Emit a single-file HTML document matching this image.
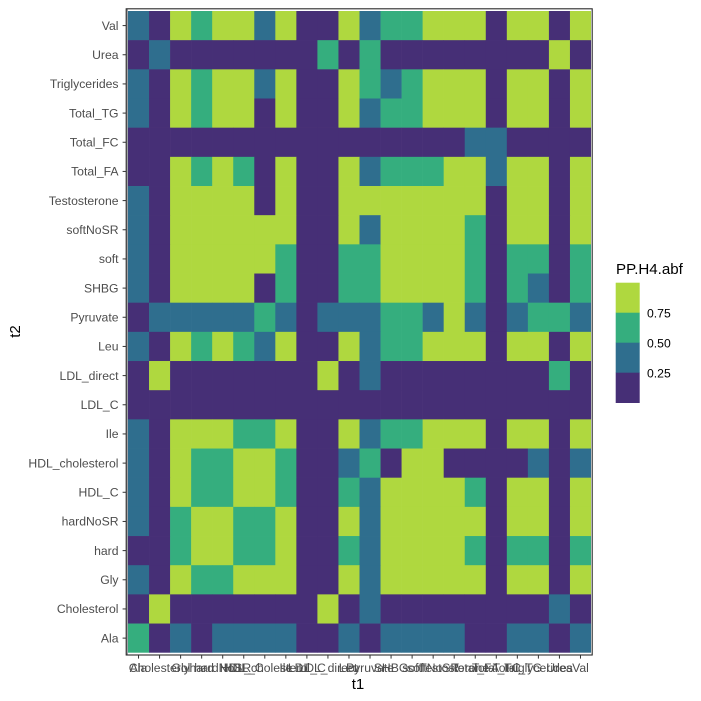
<!DOCTYPE html>
<html>
<head>
<meta charset="utf-8">
<style>
html,body{margin:0;padding:0;background:#fff;width:701px;height:701px;overflow:hidden}
svg{display:block}
text{font-family:"Liberation Sans",sans-serif}
</style>
</head>
<body>
<svg id="chart" width="701" height="701" viewBox="0 0 701 701" xmlns="http://www.w3.org/2000/svg">
  <rect x="0" y="0" width="701" height="701" fill="#ffffff"/>
  <g id="cells"></g>
  <rect x="126.6" y="9" width="1.4" height="646" fill="#9da1a6"/>
  <rect x="126.2" y="8.8" width="466" height="646.2" fill="none" stroke="#2a2a2a" stroke-width="1.1"/>
  <g id="x-axis"></g>
  <g id="y-axis"></g>
  <text x="358" y="689" font-size="15" text-anchor="middle" fill="#000">t1</text>
  <text transform="translate(20,331.5) rotate(-90)" font-size="15" text-anchor="middle" fill="#000">t2</text>
  <g id="legend">
    <text x="616" y="274" font-size="15.1" fill="#000">PP.H4.abf</text>
  </g>
</svg>
<script>
const xCategories = ["Ala","Cholesterol","Gly","hard","hardNoSR","HDL_C","HDL_cholesterol","Ile","LDL_C","LDL_direct","Leu","Pyruvate","SHBG","soft","softNoSR","Testosterone","Total_FA","Total_FC","Total_TG","Triglycerides","Urea","Val"];
const yCategories = ["Val","Urea","Triglycerides","Total_TG","Total_FC","Total_FA","Testosterone","softNoSR","soft","SHBG","Pyruvate","Leu","LDL_direct","LDL_C","Ile","HDL_cholesterol","HDL_C","hardNoSR","hard","Gly","Cholesterol","Ala"];
const rowVal = [.4,.1,.9,.6,.9,.9,.4,.9,.1,.1,.9,.4,.6,.6,.9,.9,.9,.1,.9,.9,.1,.9];
const rowUrea = [.1,.4,.1,.1,.1,.1,.1,.1,.1,.6,.1,.6,.1,.1,.1,.1,.1,.1,.1,.1,.9,.1];
const rowTriglycerides = [.4,.1,.9,.6,.9,.9,.4,.9,.1,.1,.9,.6,.4,.6,.9,.9,.9,.1,.9,.9,.1,.9];
const rowTotalTG = [.4,.1,.9,.6,.9,.9,.1,.9,.1,.1,.9,.4,.6,.6,.9,.9,.9,.1,.9,.9,.1,.9];
const rowTotalFC = [.1,.1,.1,.1,.1,.1,.1,.1,.1,.1,.1,.1,.1,.1,.1,.1,.4,.4,.1,.1,.1,.1];
const rowTotalFA = [.1,.1,.9,.6,.9,.6,.1,.9,.1,.1,.9,.4,.6,.6,.6,.9,.9,.4,.9,.9,.1,.9];
const rowTestosterone = [.4,.1,.9,.9,.9,.9,.1,.9,.1,.1,.9,.9,.9,.9,.9,.9,.9,.1,.9,.9,.1,.9];
const rowSoftNoSR = [.4,.1,.9,.9,.9,.9,.9,.9,.1,.1,.9,.4,.9,.9,.9,.9,.6,.1,.9,.9,.1,.9];
const rowSoft = [.4,.1,.9,.9,.9,.9,.9,.6,.1,.1,.6,.6,.9,.9,.9,.9,.6,.1,.6,.6,.1,.6];
const rowSHBG = [.4,.1,.9,.9,.9,.9,.1,.6,.1,.1,.6,.6,.9,.9,.9,.9,.6,.1,.6,.4,.1,.6];
const rowPyruvate = [.1,.4,.4,.4,.4,.4,.6,.4,.1,.4,.4,.4,.6,.6,.4,.9,.4,.1,.4,.6,.6,.4];
const rowLeu = [.4,.1,.9,.6,.9,.6,.4,.9,.1,.1,.9,.4,.6,.6,.9,.9,.9,.1,.9,.9,.1,.9];
const rowLDLDirect = [.1,.9,.1,.1,.1,.1,.1,.1,.1,.9,.1,.4,.1,.1,.1,.1,.1,.1,.1,.1,.6,.1];
const rowLDLC = [.1,.1,.1,.1,.1,.1,.1,.1,.1,.1,.1,.1,.1,.1,.1,.1,.1,.1,.1,.1,.1,.1];
const rowIle = [.4,.1,.9,.9,.9,.6,.6,.9,.1,.1,.9,.4,.6,.6,.9,.9,.9,.1,.9,.9,.1,.9];
const rowHDLCholesterol = [.4,.1,.9,.6,.6,.9,.9,.6,.1,.1,.4,.6,.1,.9,.9,.1,.1,.1,.1,.4,.1,.4];
const rowHDLC = [.4,.1,.9,.6,.6,.9,.9,.6,.1,.1,.6,.4,.9,.9,.9,.9,.6,.1,.9,.9,.1,.9];
const rowHardNoSR = [.4,.1,.6,.9,.9,.6,.6,.9,.1,.1,.9,.4,.9,.9,.9,.9,.9,.1,.9,.9,.1,.9];
const rowHard = [.1,.1,.6,.9,.9,.6,.6,.9,.1,.1,.6,.4,.9,.9,.9,.9,.6,.1,.6,.6,.1,.6];
const rowGly = [.4,.1,.9,.6,.6,.9,.9,.9,.1,.1,.9,.4,.9,.9,.9,.9,.9,.1,.9,.9,.1,.9];
const rowCholesterol = [.1,.9,.1,.1,.1,.1,.1,.1,.1,.9,.1,.4,.1,.1,.1,.1,.1,.1,.1,.1,.4,.1];
const rowAla = [.6,.1,.4,.1,.4,.4,.4,.4,.1,.1,.4,.1,.4,.4,.4,.4,.1,.1,.4,.4,.1,.4];
const rows = [rowVal,rowUrea,rowTriglycerides,rowTotalTG,rowTotalFC,rowTotalFA,rowTestosterone,rowSoftNoSR,rowSoft,rowSHBG,rowPyruvate,rowLeu,rowLDLDirect,rowLDLC,rowIle,rowHDLCholesterol,rowHDLC,rowHardNoSR,rowHard,rowGly,rowCholesterol,rowAla];
const legendBreaks = ["0.75","0.50","0.25"];
const binColors = ["#462f76","#2f6e8e","#35ae7e","#afd83f"];
const legendBins = [0.9,0.6,0.4,0.1];

const NS = "http://www.w3.org/2000/svg";
const plotLeft = 128, plotTop = 11, cellW = 463 / 22, cellH = 641.7 / 22;
function xScale(i){ return plotLeft + i * cellW; }
function yScale(j){ return plotTop + j * cellH; }
function colorFor(v){ return binColors[Math.min(3, Math.max(0, Math.floor(v * 4)))]; }
function make(tag, attrs, parent){
  const el = document.createElementNS(NS, tag);
  for (const k in attrs) el.setAttribute(k, attrs[k]);
  parent.appendChild(el);
  return el;
}

const cellsG = document.getElementById("cells");
rows.forEach(function(row, j){
  row.forEach(function(v, i){
    const r = make("rect", {x: xScale(i), y: yScale(j), width: cellW + (i < 21 ? 0.3 : 0), height: cellH + (j < 21 ? 0.3 : 0), fill: colorFor(v)}, cellsG);
    
    
  });
});

const xAxisG = document.getElementById("x-axis");
xCategories.forEach(function(name, i){
  const cx = xScale(i) + cellW / 2;
  const t = make("line", {x1: cx, x2: cx, y1: 655, y2: 658.6, stroke: "#333333", "stroke-width": 1}, xAxisG);
  
  
  const l = make("text", {x: cx, y: 672.2, "font-size": 12.2, "text-anchor": "middle", fill: "#4d4d4d"}, xAxisG);
  
  
  l.textContent = name;
});

const yAxisG = document.getElementById("y-axis");
yCategories.forEach(function(name, j){
  const cy = yScale(j) + cellH / 2;
  const t = make("line", {x1: 122.6, x2: 126.2, y1: cy, y2: cy, stroke: "#333333", "stroke-width": 1}, yAxisG);
  
  
  const l = make("text", {x: 118.5, y: cy + 4.3, "font-size": 12.2, "text-anchor": "end", fill: "#4d4d4d"}, yAxisG);
  
  
  l.textContent = name;
});

const legendG = document.getElementById("legend");
legendBins.forEach(function(v, k){
  const r = make("rect", {x: 615.7, y: 282.7 + k * 30, width: 24, height: 30.3, fill: colorFor(v)}, legendG);
  
  
});
legendBreaks.forEach(function(label, k){
  const l = make("text", {x: 647, y: 317.6 + k * 30, "font-size": 12.2, fill: "#000000"}, legendG);
  
  
  l.textContent = label;
});
</script>
</body>
</html>
